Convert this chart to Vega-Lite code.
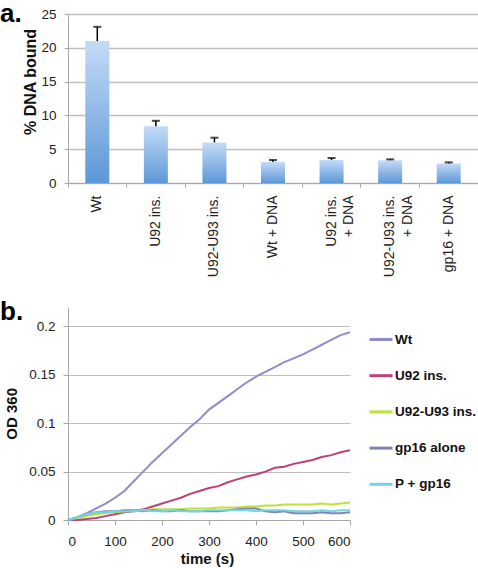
{
  "$schema": "https://vega.github.io/schema/vega-lite/v6.json",
  "background": "white",
  "padding": {"left": 0, "top": 0, "right": 0, "bottom": 0},
  "spacing": 22,
  "resolve": {"legend": {"color": "independent"}},
  "config": {
    "font": "Liberation Sans",
    "view": {"stroke": null},
    "axis": {
      "labelFont": "Liberation Sans",
      "titleFont": "Liberation Sans",
      "labelColor": "#222222",
      "titleColor": "#111111",
      "domainColor": "#a8a8a8",
      "tickColor": "#a8a8a8",
      "gridColor": "#bfbfbf",
      "labelOverlap": false
    }
  },
  "datasets": {
    "binding": [
      {"sample": "Wt", "bound": 21.0, "upper": 23.1},
      {"sample": "U92 ins.", "bound": 8.4, "upper": 9.2},
      {"sample": "U92-U93 ins.", "bound": 6.0, "upper": 6.7},
      {"sample": "Wt + DNA", "bound": 3.1, "upper": 3.4},
      {"sample": "U92 ins. + DNA", "bound": 3.4, "upper": 3.7},
      {"sample": "U92-U93 ins. + DNA", "bound": 3.35, "upper": 3.5},
      {"sample": "gp16 + DNA", "bound": 2.9, "upper": 3.05}
    ],
    "kinetics": [
      {"t": 0, "s": "Wt", "od": 0}, {"t": 20, "s": "Wt", "od": 0.003}, {"t": 40, "s": "Wt", "od": 0.007},
      {"t": 60, "s": "Wt", "od": 0.012}, {"t": 80, "s": "Wt", "od": 0.017}, {"t": 100, "s": "Wt", "od": 0.023},
      {"t": 120, "s": "Wt", "od": 0.030}, {"t": 140, "s": "Wt", "od": 0.040}, {"t": 160, "s": "Wt", "od": 0.050},
      {"t": 180, "s": "Wt", "od": 0.060}, {"t": 200, "s": "Wt", "od": 0.069}, {"t": 220, "s": "Wt", "od": 0.078},
      {"t": 240, "s": "Wt", "od": 0.087}, {"t": 260, "s": "Wt", "od": 0.096}, {"t": 280, "s": "Wt", "od": 0.104},
      {"t": 300, "s": "Wt", "od": 0.114}, {"t": 320, "s": "Wt", "od": 0.121}, {"t": 340, "s": "Wt", "od": 0.128},
      {"t": 360, "s": "Wt", "od": 0.135}, {"t": 380, "s": "Wt", "od": 0.142}, {"t": 400, "s": "Wt", "od": 0.148},
      {"t": 420, "s": "Wt", "od": 0.153}, {"t": 440, "s": "Wt", "od": 0.158}, {"t": 460, "s": "Wt", "od": 0.163},
      {"t": 480, "s": "Wt", "od": 0.167}, {"t": 500, "s": "Wt", "od": 0.171}, {"t": 520, "s": "Wt", "od": 0.176},
      {"t": 540, "s": "Wt", "od": 0.181}, {"t": 560, "s": "Wt", "od": 0.186}, {"t": 580, "s": "Wt", "od": 0.191},
      {"t": 600, "s": "Wt", "od": 0.194},

      {"t": 0, "s": "U92 ins.", "od": 0}, {"t": 20, "s": "U92 ins.", "od": 0.000}, {"t": 40, "s": "U92 ins.", "od": 0.001},
      {"t": 60, "s": "U92 ins.", "od": 0.002}, {"t": 80, "s": "U92 ins.", "od": 0.004}, {"t": 100, "s": "U92 ins.", "od": 0.006},
      {"t": 120, "s": "U92 ins.", "od": 0.008}, {"t": 140, "s": "U92 ins.", "od": 0.009}, {"t": 160, "s": "U92 ins.", "od": 0.011},
      {"t": 180, "s": "U92 ins.", "od": 0.014}, {"t": 200, "s": "U92 ins.", "od": 0.017}, {"t": 220, "s": "U92 ins.", "od": 0.020},
      {"t": 240, "s": "U92 ins.", "od": 0.023}, {"t": 260, "s": "U92 ins.", "od": 0.027}, {"t": 280, "s": "U92 ins.", "od": 0.030},
      {"t": 300, "s": "U92 ins.", "od": 0.033}, {"t": 320, "s": "U92 ins.", "od": 0.035}, {"t": 340, "s": "U92 ins.", "od": 0.039},
      {"t": 360, "s": "U92 ins.", "od": 0.042}, {"t": 380, "s": "U92 ins.", "od": 0.045}, {"t": 400, "s": "U92 ins.", "od": 0.047},
      {"t": 420, "s": "U92 ins.", "od": 0.050}, {"t": 440, "s": "U92 ins.", "od": 0.054}, {"t": 460, "s": "U92 ins.", "od": 0.055},
      {"t": 480, "s": "U92 ins.", "od": 0.058}, {"t": 500, "s": "U92 ins.", "od": 0.060}, {"t": 520, "s": "U92 ins.", "od": 0.062},
      {"t": 540, "s": "U92 ins.", "od": 0.065}, {"t": 560, "s": "U92 ins.", "od": 0.067}, {"t": 580, "s": "U92 ins.", "od": 0.070},
      {"t": 600, "s": "U92 ins.", "od": 0.072},

      {"t": 0, "s": "U92-U93 ins.", "od": 0}, {"t": 20, "s": "U92-U93 ins.", "od": 0.002}, {"t": 40, "s": "U92-U93 ins.", "od": 0.004},
      {"t": 60, "s": "U92-U93 ins.", "od": 0.006}, {"t": 80, "s": "U92-U93 ins.", "od": 0.007}, {"t": 100, "s": "U92-U93 ins.", "od": 0.008},
      {"t": 120, "s": "U92-U93 ins.", "od": 0.009}, {"t": 140, "s": "U92-U93 ins.", "od": 0.009}, {"t": 160, "s": "U92-U93 ins.", "od": 0.010},
      {"t": 180, "s": "U92-U93 ins.", "od": 0.011}, {"t": 200, "s": "U92-U93 ins.", "od": 0.011}, {"t": 220, "s": "U92-U93 ins.", "od": 0.011},
      {"t": 240, "s": "U92-U93 ins.", "od": 0.011}, {"t": 260, "s": "U92-U93 ins.", "od": 0.012}, {"t": 280, "s": "U92-U93 ins.", "od": 0.012},
      {"t": 300, "s": "U92-U93 ins.", "od": 0.012}, {"t": 320, "s": "U92-U93 ins.", "od": 0.013}, {"t": 340, "s": "U92-U93 ins.", "od": 0.013},
      {"t": 360, "s": "U92-U93 ins.", "od": 0.013}, {"t": 380, "s": "U92-U93 ins.", "od": 0.014}, {"t": 400, "s": "U92-U93 ins.", "od": 0.014},
      {"t": 420, "s": "U92-U93 ins.", "od": 0.015}, {"t": 440, "s": "U92-U93 ins.", "od": 0.015}, {"t": 460, "s": "U92-U93 ins.", "od": 0.016},
      {"t": 480, "s": "U92-U93 ins.", "od": 0.016}, {"t": 500, "s": "U92-U93 ins.", "od": 0.016}, {"t": 520, "s": "U92-U93 ins.", "od": 0.016},
      {"t": 540, "s": "U92-U93 ins.", "od": 0.017}, {"t": 560, "s": "U92-U93 ins.", "od": 0.016}, {"t": 580, "s": "U92-U93 ins.", "od": 0.017},
      {"t": 600, "s": "U92-U93 ins.", "od": 0.018},

      {"t": 0, "s": "gp16 alone", "od": 0}, {"t": 20, "s": "gp16 alone", "od": 0.003}, {"t": 40, "s": "gp16 alone", "od": 0.006},
      {"t": 60, "s": "gp16 alone", "od": 0.008}, {"t": 80, "s": "gp16 alone", "od": 0.009}, {"t": 100, "s": "gp16 alone", "od": 0.009},
      {"t": 120, "s": "gp16 alone", "od": 0.010}, {"t": 140, "s": "gp16 alone", "od": 0.010}, {"t": 160, "s": "gp16 alone", "od": 0.009},
      {"t": 180, "s": "gp16 alone", "od": 0.010}, {"t": 200, "s": "gp16 alone", "od": 0.009}, {"t": 220, "s": "gp16 alone", "od": 0.009},
      {"t": 240, "s": "gp16 alone", "od": 0.010}, {"t": 260, "s": "gp16 alone", "od": 0.009}, {"t": 280, "s": "gp16 alone", "od": 0.009},
      {"t": 300, "s": "gp16 alone", "od": 0.009}, {"t": 320, "s": "gp16 alone", "od": 0.009}, {"t": 340, "s": "gp16 alone", "od": 0.010},
      {"t": 360, "s": "gp16 alone", "od": 0.011}, {"t": 380, "s": "gp16 alone", "od": 0.012}, {"t": 400, "s": "gp16 alone", "od": 0.012},
      {"t": 420, "s": "gp16 alone", "od": 0.009}, {"t": 440, "s": "gp16 alone", "od": 0.008}, {"t": 460, "s": "gp16 alone", "od": 0.009},
      {"t": 480, "s": "gp16 alone", "od": 0.007}, {"t": 500, "s": "gp16 alone", "od": 0.007}, {"t": 520, "s": "gp16 alone", "od": 0.007},
      {"t": 540, "s": "gp16 alone", "od": 0.008}, {"t": 560, "s": "gp16 alone", "od": 0.007}, {"t": 580, "s": "gp16 alone", "od": 0.007},
      {"t": 600, "s": "gp16 alone", "od": 0.008},

      {"t": 0, "s": "P + gp16", "od": 0}, {"t": 20, "s": "P + gp16", "od": 0.003}, {"t": 40, "s": "P + gp16", "od": 0.006},
      {"t": 60, "s": "P + gp16", "od": 0.008}, {"t": 80, "s": "P + gp16", "od": 0.008}, {"t": 100, "s": "P + gp16", "od": 0.009},
      {"t": 120, "s": "P + gp16", "od": 0.009}, {"t": 140, "s": "P + gp16", "od": 0.009}, {"t": 160, "s": "P + gp16", "od": 0.010},
      {"t": 180, "s": "P + gp16", "od": 0.009}, {"t": 200, "s": "P + gp16", "od": 0.009}, {"t": 220, "s": "P + gp16", "od": 0.010},
      {"t": 240, "s": "P + gp16", "od": 0.009}, {"t": 260, "s": "P + gp16", "od": 0.009}, {"t": 280, "s": "P + gp16", "od": 0.009},
      {"t": 300, "s": "P + gp16", "od": 0.010}, {"t": 320, "s": "P + gp16", "od": 0.010}, {"t": 340, "s": "P + gp16", "od": 0.010},
      {"t": 360, "s": "P + gp16", "od": 0.010}, {"t": 380, "s": "P + gp16", "od": 0.010}, {"t": 400, "s": "P + gp16", "od": 0.009},
      {"t": 420, "s": "P + gp16", "od": 0.010}, {"t": 440, "s": "P + gp16", "od": 0.010}, {"t": 460, "s": "P + gp16", "od": 0.010},
      {"t": 480, "s": "P + gp16", "od": 0.009}, {"t": 500, "s": "P + gp16", "od": 0.009}, {"t": 520, "s": "P + gp16", "od": 0.009},
      {"t": 540, "s": "P + gp16", "od": 0.010}, {"t": 560, "s": "P + gp16", "od": 0.009}, {"t": 580, "s": "P + gp16", "od": 0.010},
      {"t": 600, "s": "P + gp16", "od": 0.010}
    ]
  },
  "vconcat": [
    {
      "width": 410,
      "height": 169,
      "title": {
        "text": "a.", "anchor": "start", "frame": "group", "orient": "top",
        "offset": 0, "dx": -68, "dy": 40.75, "baseline": "alphabetic",
        "fontSize": 26, "fontWeight": "bold", "font": "Liberation Sans", "color": "#000000"
      },
      "data": {"name": "binding"},
      "encoding": {
        "x": {
          "field": "sample", "type": "nominal", "sort": null,
          "scale": {"paddingInner": 0, "paddingOuter": 0},
          "axis": {
            "title": null, "grid": false, "bandPosition": 0,
            "labelAngle": -90, "labelAlign": "right", "labelBaseline": "middle",
            "tickSize": 4, "labelPadding": 8, "labelFontSize": 14, "labelLineHeight": 17.5,
            "labelExpr": "datum.label == 'U92 ins. + DNA' ? ['U92 ins.', '+ DNA\u00a0'] : datum.label == 'U92-U93 ins. + DNA' ? ['U92-U93 ins.', '+ DNA\u00a0\u00a0\u00a0\u00a0\u00a0'] : datum.label"
          }
        },
        "y": {
          "field": "bound", "type": "quantitative",
          "scale": {"domain": [0, 25], "nice": false},
          "axis": {
            "title": "% DNA bound", "values": [0, 5, 10, 15, 20, 25],
            "grid": true, "gridWidth": 1.5, "tickSize": 4, "labelPadding": 8,
            "labelFontSize": 13.5, "titleFontSize": 16, "titleFontWeight": "bold",
            "titleX": -38, "titleY": 67.5, "titleAngle": -90,
            "titleAlign": "center", "titleBaseline": "middle"
          }
        }
      },
      "layer": [
        {
          "mark": {
            "type": "bar",
            "width": {"band": 0.41},
            "color": {
              "gradient": "linear", "x1": 0, "y1": 0, "x2": 0, "y2": 1,
              "stops": [
                {"offset": 0, "color": "#c4dbf7"},
                {"offset": 1, "color": "#5c97d7"}
              ]
            }
          }
        },
        {
          "mark": {"type": "rule", "color": "#000000", "strokeWidth": 1.5},
          "encoding": {
            "y2": {"field": "upper"}
          }
        },
        {
          "mark": {"type": "tick", "color": "#000000", "thickness": 2, "size": 8, "orient": "horizontal"},
          "encoding": {
            "y": {
              "field": "upper", "type": "quantitative",
              "scale": {"domain": [0, 25], "nice": false},
              "axis": {
                "title": "% DNA bound", "values": [0, 5, 10, 15, 20, 25],
                "grid": true, "gridWidth": 1.5, "tickSize": 4, "labelPadding": 8,
                "labelFontSize": 13.5, "titleFontSize": 16, "titleFontWeight": "bold",
                "titleX": -38, "titleY": 67.5, "titleAngle": -90,
                "titleAlign": "center", "titleBaseline": "middle"
              }
            }
          }
        }
      ]
    },
    {
      "width": 282,
      "height": 213,
      "title": {
        "text": "b.", "anchor": "start", "frame": "group", "orient": "top",
        "offset": 0, "dx": -68, "dy": 39.2, "baseline": "alphabetic",
        "fontSize": 26, "fontWeight": "bold", "font": "Liberation Sans", "color": "#000000"
      },
      "data": {"name": "kinetics"},
      "mark": {"type": "line", "strokeWidth": 2},
      "encoding": {
        "x": {
          "field": "t", "type": "quantitative",
          "scale": {"domain": [0, 600], "nice": false},
          "axis": {
            "title": "time (s)", "values": [0, 100, 200, 300, 400, 500, 600], "format": "d",
            "grid": false, "tickSize": 5, "labelPadding": 9, "labelFontSize": 13.5,
            "titleFontSize": 15, "titleFontWeight": "bold",
            "titleX": 139, "titleY": 43.6, "titleAlign": "center", "titleBaseline": "alphabetic"
          }
        },
        "y": {
          "field": "od", "type": "quantitative",
          "scale": {"domain": [0, 0.22], "nice": false},
          "axis": {
            "title": "OD 360", "values": [0, 0.05, 0.1, 0.15, 0.2], "format": "~g",
            "grid": true, "gridWidth": 1.2, "tickSize": 5, "labelPadding": 8, "labelFontSize": 13.5,
            "titleFontSize": 15, "titleFontWeight": "bold",
            "titleX": -57, "titleY": 106.3, "titleAngle": -90,
            "titleAlign": "center", "titleBaseline": "middle"
          }
        },
        "color": {
          "field": "s", "type": "nominal",
          "scale": {
            "domain": ["Wt", "U92 ins.", "U92-U93 ins.", "gp16 alone", "P + gp16"],
            "range": ["#8e8cc9", "#bf3f7b", "#bde23a", "#8080bb", "#70d6e3"]
          },
          "legend": {
            "orient": "none", "legendX": 300, "legendY": 19.5, "title": null, "padding": 0,
            "symbolType": "stroke", "symbolSize": 529, "symbolStrokeWidth": 3,
            "labelFontSize": 13.5, "labelFontWeight": "bold", "labelFont": "Liberation Sans",
            "labelColor": "#111111", "labelOffset": 1, "rowPadding": 16.2, "labelLimit": 200
          }
        }
      }
    }
  ]
}
